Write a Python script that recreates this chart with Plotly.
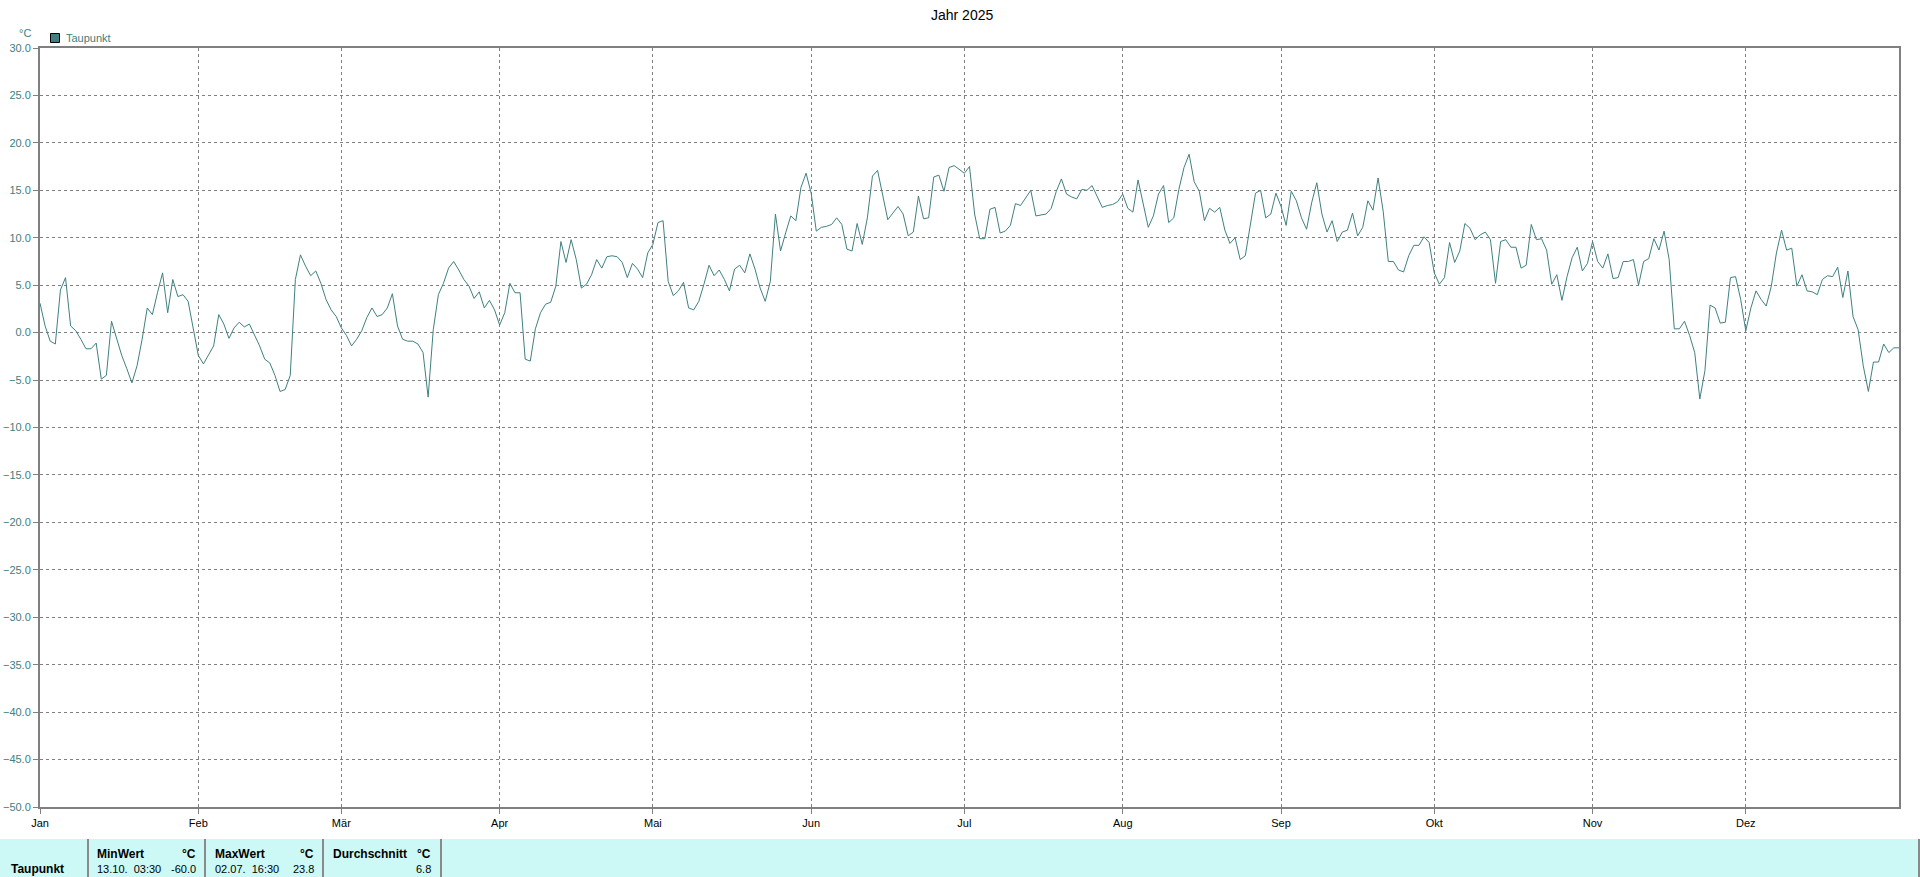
import pandas as pd
import plotly.graph_objects as go

# ---- data ----
year_start = "2025-01-01"
taupunkt = [
    3.1, 0.7, -0.9, -1.2, 4.5, 5.8, 0.7, 0.2, -0.7, -1.7,
    -1.7, -1.1, -4.9, -4.5, 1.2, -0.7, -2.4, -3.8, -5.3, -3.5,
    -0.7, 2.6, 1.9, 4.2, 6.3, 2.1, 5.6, 3.8, 4.0, 3.3,
    0.5, -2.4, -3.3, -2.4, -1.4, 1.9, 0.9, -0.6, 0.5, 1.1,
    0.6, 0.9, -0.2, -1.4, -2.8, -3.2, -4.5, -6.2, -6.0, -4.5,
    5.6, 8.2, 7.0, 6.0, 6.5, 5.2, 3.5, 2.4, 1.7, 0.5,
    -0.3, -1.4, -0.7, 0.2, 1.6, 2.6, 1.7, 1.9, 2.6, 4.1,
    0.7, -0.7, -0.9, -0.9, -1.2, -2.1, -6.8, 0.3, 4.0, 5.2,
    6.8, 7.5, 6.6, 5.6, 4.9, 3.6, 4.3, 2.6, 3.4, 2.4,
    0.8, 2.1, 5.2, 4.2, 4.2, -2.8, -3.0, 0.4, 2.1, 3.0,
    3.2, 4.9, 9.6, 7.4, 9.8, 7.7, 4.7, 5.1, 6.1, 7.7,
    6.8, 8.0, 8.1, 8.0, 7.4, 5.8, 7.3, 6.7, 5.8, 8.4,
    9.3, 11.6, 11.8, 5.4, 3.9, 4.4, 5.3, 2.6, 2.4, 3.3,
    5.1, 7.1, 6.0, 6.6, 5.6, 4.4, 6.7, 7.1, 6.3, 8.3,
    6.7, 4.7, 3.3, 5.4, 12.5, 8.6, 10.5, 12.3, 11.8, 15.3,
    16.8, 14.7, 10.7, 11.1, 11.2, 11.4, 12.1, 11.4, 8.8, 8.6,
    11.5, 9.3, 12.1, 16.5, 17.1, 14.4, 11.9, 12.6, 13.3, 12.5,
    10.2, 10.6, 14.4, 12.0, 12.1, 16.4, 16.6, 14.9, 17.4, 17.6,
    17.2, 16.8, 17.5, 12.5, 9.9, 9.9, 13.0, 13.2, 10.5, 10.7,
    11.3, 13.6, 13.4, 14.2, 15.0, 12.3, 12.4, 12.5, 13.1, 14.9,
    16.2, 14.6, 14.3, 14.1, 15.1, 15.0, 15.5, 14.4, 13.2, 13.4,
    13.5, 13.8, 14.6, 13.1, 12.7, 16.1, 13.6, 11.1, 12.3, 14.6,
    15.5, 11.6, 12.1, 15.1, 17.4, 18.8, 15.9, 14.9, 11.8, 13.1,
    12.7, 13.2, 10.8, 9.4, 10.0, 7.7, 8.1, 11.6, 14.7, 15.0,
    12.1, 12.5, 14.7, 13.3, 11.3, 14.9, 13.9, 12.1, 10.9, 13.7,
    15.8, 12.5, 10.6, 11.8, 9.6, 10.6, 10.8, 12.6, 10.2, 11.1,
    13.9, 12.9, 16.3, 12.8, 7.5, 7.5, 6.6, 6.4, 8.1, 9.2,
    9.2, 10.1, 9.5, 6.3, 5.1, 5.8, 9.5, 7.4, 8.6, 11.5,
    11.0, 9.8, 10.3, 10.6, 9.8, 5.2, 9.6, 9.8, 9.0, 9.0,
    6.8, 7.1, 11.4, 9.8, 9.9, 8.7, 5.1, 6.1, 3.4, 5.9,
    7.9, 9.0, 6.5, 7.3, 9.6, 7.5, 6.8, 8.3, 5.7, 5.8,
    7.5, 7.5, 7.7, 5.0, 7.5, 7.8, 9.9, 8.7, 10.7, 7.7,
    0.4, 0.4, 1.2, -0.3, -2.1, -7.0, -4.0, 2.9, 2.6, 1.0,
    1.1, 5.8, 5.9, 3.5, 0.2, 2.6, 4.4, 3.5, 2.8, 4.9,
    8.4, 10.8, 8.7, 8.9, 4.9, 6.1, 4.4, 4.3, 4.0, 5.6,
    6.0, 5.9, 6.9, 3.7, 6.5, 1.7, 0.3, -3.5, -6.2, -3.1,
    -3.1, -1.2, -2.1, -1.6, -1.6,
]
dates = pd.date_range(year_start, periods=len(taupunkt), freq="D")

month_ticks = ["2025-01-01", "2025-02-01", "2025-03-01", "2025-04-01", "2025-05-01",
               "2025-06-01", "2025-07-01", "2025-08-01", "2025-09-01", "2025-10-01",
               "2025-11-01", "2025-12-01"]
month_labels = ["Jan", "Feb", "Mär", "Apr", "Mai", "Jun", "Jul", "Aug", "Sep", "Okt", "Nov", "Dez"]

series_name = "Taupunkt"
unit = "°C"
title_text = "Jahr 2025"
stat_headers = ["MinWert", "MaxWert", "Durchschnitt"]
stat_times = ["13.10.  03:30", "02.07.  16:30", ""]
stat_values = ["-60.0", "23.8", "6.8"]

# ---- layout geometry (pixels) ----
W, H = 1920, 877
L, R, T, B = 40, 1899, 48, 807
TEAL = "#408080"
GRID = "#808080"
FONT = "Liberation Sans, Arial, sans-serif"


def px(x):
    return (x - L) / (R - L)


def py(y):
    return (B - y) / (B - T)


fig = go.Figure()
fig.add_trace(go.Scatter(x=dates, y=taupunkt, mode="lines", name=series_name,
                         line=dict(color=TEAL, width=1), showlegend=False))

fig.update_layout(
    width=W, height=H, autosize=False,
    margin=dict(l=L, r=W - R, t=T, b=H - B, pad=0, autoexpand=False),
    paper_bgcolor="white", plot_bgcolor="white",
    font=dict(family=FONT, size=11, color="black"),
)
fig.update_xaxes(
    type="date", range=["2025-01-01", "2025-12-31"],
    tickvals=month_ticks, ticktext=month_labels,
    showgrid=True, gridcolor=GRID, gridwidth=1, griddash="3px,3px",
    showline=True, linecolor=GRID, linewidth=2, mirror=True,
    ticks="outside", ticklen=5, tickcolor=GRID, tickwidth=1,
    tickfont=dict(family=FONT, size=11, color="black"),
    zeroline=False, fixedrange=True, automargin=False,
)
fig.update_yaxes(
    range=[-50, 30], tick0=-50, dtick=5, tickformat=".1f",
    showgrid=True, gridcolor=GRID, gridwidth=1, griddash="3px,3px",
    showline=True, linecolor=GRID, linewidth=2, mirror=True,
    ticks="outside", ticklen=5, tickcolor=GRID, tickwidth=1,
    tickfont=dict(family=FONT, size=11, color=TEAL),
    zeroline=False, fixedrange=True, automargin=False,
)

shapes = []
annotations = []

# title
annotations.append(dict(text=title_text, x=px(962), y=py(15), xref="paper", yref="paper",
                        xanchor="center", yanchor="middle", showarrow=False,
                        font=dict(family=FONT, size=14, color="black")))
# unit label
annotations.append(dict(text=unit, x=px(25), y=py(33), xref="paper", yref="paper",
                        xanchor="center", yanchor="middle", showarrow=False,
                        font=dict(family=FONT, size=11, color=TEAL)))
# legend
shapes.append(dict(type="rect", xref="paper", yref="paper",
                   x0=px(50.5), x1=px(59.5), y0=py(42.5), y1=py(33.5),
                   fillcolor=TEAL, line=dict(color="black", width=1)))
annotations.append(dict(text=series_name, x=px(64), y=py(38), xref="paper", yref="paper",
                        xanchor="left", yanchor="middle", showarrow=False,
                        font=dict(family=FONT, size=11, color=TEAL)))

# statistics table
shapes.append(dict(type="rect", xref="paper", yref="paper", layer="below",
                   x0=px(0), x1=px(1920), y0=py(877), y1=py(839),
                   fillcolor="#ccf9f6", line=dict(width=0)))
for sx in [88, 205, 323, 441, 1919]:
    shapes.append(dict(type="line", xref="paper", yref="paper",
                       x0=px(sx), x1=px(sx), y0=py(877), y1=py(839),
                       line=dict(color="#8a8a8a", width=2)))

row1, row2 = 854, 869
annotations.append(dict(text="<b>" + series_name + "</b>", x=px(9), y=py(row2), xref="paper", yref="paper",
                        xanchor="left", yanchor="middle", showarrow=False,
                        font=dict(family=FONT, size=12, color="black")))
col_left = [95, 213, 331]
col_right = [198, 316, 433]
for i in range(3):
    annotations.append(dict(text="<b>" + stat_headers[i] + "</b>", x=px(col_left[i]), y=py(row1),
                            xref="paper", yref="paper", xanchor="left", yanchor="middle",
                            showarrow=False, font=dict(family=FONT, size=12, color="black")))
    annotations.append(dict(text="<b>" + unit + "</b>", x=px(col_right[i]), y=py(row1),
                            xref="paper", yref="paper", xanchor="right", yanchor="middle",
                            showarrow=False, font=dict(family=FONT, size=12, color="black")))
    if stat_times[i]:
        annotations.append(dict(text=stat_times[i].replace("  ", "&nbsp; "), x=px(col_left[i]), y=py(row2),
                                xref="paper", yref="paper", xanchor="left", yanchor="middle",
                                showarrow=False, font=dict(family=FONT, size=11, color="black")))
    annotations.append(dict(text=stat_values[i], x=px(col_right[i]), y=py(row2),
                            xref="paper", yref="paper", xanchor="right", yanchor="middle",
                            showarrow=False, font=dict(family=FONT, size=11, color="black")))

fig.update_layout(shapes=shapes, annotations=annotations)

fig.write_html("out.html", include_plotlyjs=True,
               config={"displayModeBar": False, "staticPlot": True},
               post_script="document.body.style.margin='0';document.body.style.overflow='hidden';")
